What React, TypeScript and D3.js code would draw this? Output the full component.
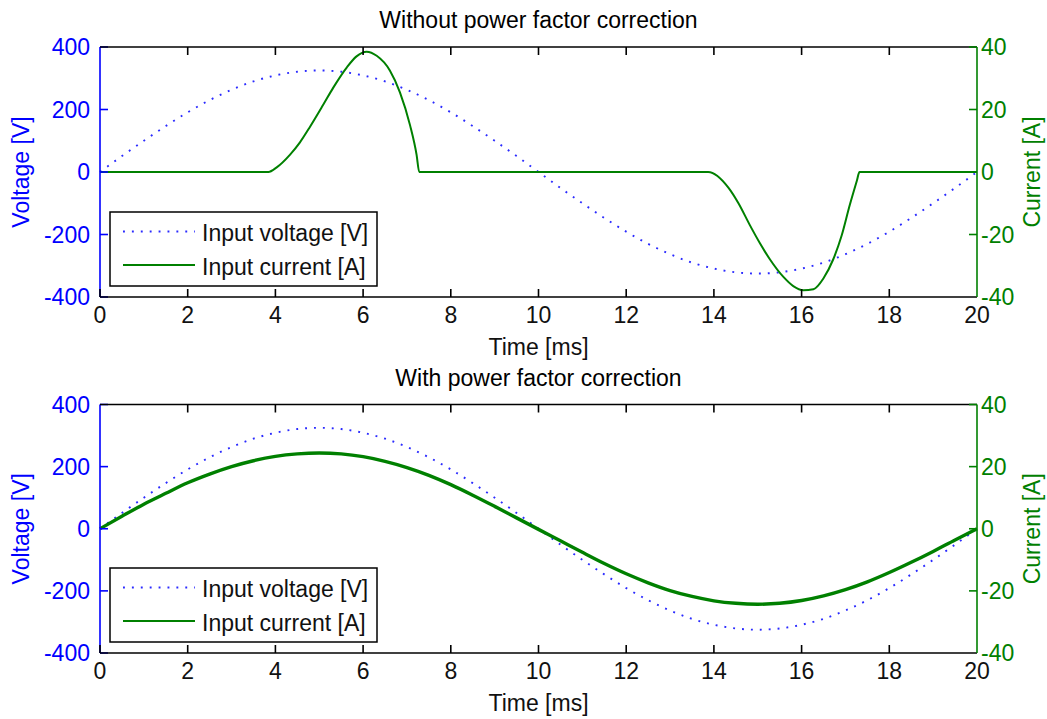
import React from 'react';
import * as d3 from 'd3';

// ---------- data ----------
const TIME = [0, 0.5, 1, 1.5, 2, 2.5, 3, 3.5, 4, 4.5, 5, 5.5, 6, 6.5, 7, 7.5, 8, 8.5, 9, 9.5, 10,
  10.5, 11, 11.5, 12, 12.5, 13, 13.5, 14, 14.5, 15, 15.5, 16, 16.5, 17, 17.5, 18, 18.5, 19, 19.5, 20];

const VOLTAGE = [0, 51, 100, 147, 191, 230, 263, 290, 309, 321, 325, 321, 309, 290, 263, 230, 191, 147, 100, 51, 0,
  -51, -100, -147, -191, -230, -263, -290, -309, -321, -325, -321, -309, -290, -263, -230, -191, -147, -100, -51, 0];

const CURRENT_PFC = [0, 4.0, 7.9, 11.4, 14.8, 17.6, 20.0, 21.9, 23.3, 24.1, 24.4, 24.1, 23.2, 21.7, 19.7, 17.2, 14.2, 10.8, 7.2, 3.5, -0.2,
  -3.9, -7.6, -11.2, -14.5, -17.4, -19.9, -21.8, -23.2, -24.0, -24.3, -24.0, -23.1, -21.6, -19.6, -17.1, -14.1, -10.8, -7.3, -3.6, 0];

const TIME_NO_PFC = [0, 3.84, 4.03, 4.33, 4.56, 4.79, 5.09, 5.32, 5.63, 5.85, 6.08, 6.31, 6.61, 6.84, 7.07, 7.22, 7.28,
  13.87, 14.33, 14.56, 14.82, 15.05, 15.28, 15.58, 15.81, 16.04, 16.27, 16.5, 16.72, 16.91, 17.1, 17.26, 17.32, 20];
const CURRENT_NO_PFC = [0, 0, 1.5, 5.5, 9.5, 14.5, 21.5, 27, 33.5, 37, 38.5, 37.2, 32.5, 25.5, 15, 5.5, 0,
  0, -5.0, -10.0, -17, -22.8, -28, -33.5, -36.5, -37.8, -37.5, -34, -28, -20.5, -10.5, -2.8, 0, 0];

const X_TICKS = [0, 2, 4, 6, 8, 10, 12, 14, 16, 18, 20];
const V_TICKS = [-400, -200, 0, 200, 400];
const I_TICKS = [-40, -20, 0, 20, 40];

const TITLES = ['Without power factor correction', 'With power factor correction'];
const LEGEND_LABELS = ['Input voltage [V]', 'Input current [A]'];
const X_LABEL = 'Time [ms]';
const Y_LEFT_LABEL = 'Voltage [V]';
const Y_RIGHT_LABEL = 'Current [A]';

// ---------- styles ----------
const FONT = 'Liberation Sans, Arial, Helvetica, sans-serif';
const FS = 23;
const BLUE = '#0000ff';
const DOT_BLUE = '#2a2aff';
const GREEN = '#008000';
const LEFT = 100;
const RIGHT = 977;
const TICK = 8;

type PanelProps = {
  top: number;
  bottom: number;
  title: string;
  currentTime: number[];
  current: number[];
  currentWidth: number;
};

function Panel({ top, bottom, title, currentTime, current, currentWidth }: PanelProps) {
  const x = d3.scaleLinear().domain([0, 20]).range([LEFT, RIGHT]);
  const yV = d3.scaleLinear().domain([-400, 400]).range([bottom, top]);
  const yI = d3.scaleLinear().domain([-40, 40]).range([bottom, top]);

  const vLine = d3.line<number>()
    .x((_, i) => x(TIME[i]))
    .y((d) => yV(d))
    .curve(d3.curveMonotoneX);
  const iLine = d3.line<number>()
    .x((_, i) => x(currentTime[i]))
    .y((d) => yI(d))
    .curve(d3.curveMonotoneX);

  const midY = (top + bottom) / 2;
  const lgTop = bottom - 85;
  const lgLeft = LEFT + 10;

  return (
    <g>
      <text x={(LEFT + RIGHT) / 2} y={top - 19} textAnchor="middle" fontSize={FS} fill="#000">{title}</text>

      {/* data */}
      <path d={vLine(VOLTAGE) || ''} fill="none" stroke={DOT_BLUE} strokeWidth={1.9}
        strokeDasharray="1.9 7" strokeLinecap="butt" />
      <path d={iLine(current) || ''} fill="none" stroke={GREEN} strokeWidth={currentWidth}
        strokeLinejoin="round" />

      {/* left axis (voltage) */}
      <line x1={LEFT} x2={LEFT} y1={top} y2={bottom} stroke={BLUE} strokeWidth={1.6} />
      {V_TICKS.map((v) => (
        <g key={'v' + v}>
          <line x1={LEFT} x2={LEFT + TICK} y1={yV(v)} y2={yV(v)} stroke={BLUE} strokeWidth={1.6} />
          <text x={LEFT - 10} y={yV(v)} dy="0.36em" textAnchor="end" fontSize={FS} fill={BLUE}>{v}</text>
        </g>
      ))}
      <text transform={`translate(29,${midY}) rotate(-90)`} textAnchor="middle" fontSize={FS} fill={BLUE}>{Y_LEFT_LABEL}</text>

      {/* box top / bottom with x ticks */}
      <line x1={LEFT} x2={RIGHT} y1={top} y2={top} stroke="#000" strokeWidth={1.6} />
      <line x1={LEFT} x2={RIGHT} y1={bottom} y2={bottom} stroke="#000" strokeWidth={1.6} />
      {X_TICKS.map((t) => (
        <g key={'x' + t}>
          {t > 0 && t < 20 && (
            <line x1={x(t)} x2={x(t)} y1={top} y2={top + TICK} stroke="#000" strokeWidth={1.6} />
          )}
          {t < 20 && (
            <line x1={x(t)} x2={x(t)} y1={bottom} y2={bottom - TICK} stroke="#000" strokeWidth={1.6} />
          )}
          <text x={x(t)} y={bottom + 26} textAnchor="middle" fontSize={FS} fill="#111">{t}</text>
        </g>
      ))}
      <text x={(LEFT + RIGHT) / 2} y={bottom + 58} textAnchor="middle" fontSize={FS} fill="#111">{X_LABEL}</text>

      {/* right axis (current) */}
      <line x1={RIGHT} x2={RIGHT} y1={top} y2={bottom} stroke={GREEN} strokeWidth={1.6} />
      {I_TICKS.map((v) => (
        <g key={'i' + v}>
          {v > -40 && (
            <line x1={RIGHT} x2={RIGHT - TICK} y1={yI(v)} y2={yI(v)} stroke={GREEN} strokeWidth={1.6} />
          )}
          <text x={RIGHT + 4} y={yI(v)} dy="0.36em" textAnchor="start" fontSize={FS} fill={GREEN}>{v}</text>
        </g>
      ))}
      <text transform={`translate(1040,${midY}) rotate(-90)`} textAnchor="middle" fontSize={FS} fill={GREEN}>{Y_RIGHT_LABEL}</text>

      {/* legend */}
      <rect x={lgLeft} y={lgTop} width={267} height={74} fill="#fff" stroke="#000" strokeWidth={1.5} />
      <line x1={lgLeft + 13} x2={lgLeft + 85} y1={lgTop + 19.5} y2={lgTop + 19.5} stroke={DOT_BLUE}
        strokeWidth={1.9} strokeDasharray="1.9 7" />
      <text x={lgLeft + 92} y={lgTop + 29} fontSize={FS} fill="#111">{LEGEND_LABELS[0]}</text>
      <line x1={lgLeft + 13} x2={lgLeft + 85} y1={lgTop + 53} y2={lgTop + 53} stroke={GREEN} strokeWidth={1.8} />
      <text x={lgLeft + 92} y={lgTop + 63} fontSize={FS} fill="#111">{LEGEND_LABELS[1]}</text>
    </g>
  );
}

export default function App() {
  return (
    <svg width={1047} height={719} viewBox="0 0 1047 719"
      style={{ position: 'absolute', left: 0, top: 0, background: '#fff', fontFamily: FONT }}>
      <rect x={0} y={0} width={1047} height={719} fill="#fff" />
      <Panel top={47} bottom={297} title={TITLES[0]} currentTime={TIME_NO_PFC} current={CURRENT_NO_PFC} currentWidth={2} />
      <Panel top={404.5} bottom={653} title={TITLES[1]} currentTime={TIME} current={CURRENT_PFC} currentWidth={3.4} />
    </svg>
  );
}
